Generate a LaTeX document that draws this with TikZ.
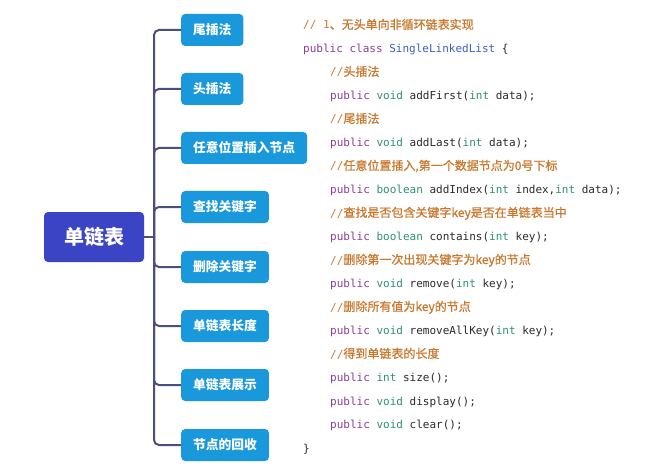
\documentclass[tikz,border=0pt]{standalone}
\usepackage{fontspec}
\setmonofont{DejaVu Sans Mono}
\newfontfamily\cjk{Noto Sans CJK SC}
\newfontfamily\cjkm[FakeBold=1]{Noto Sans CJK SC}
\definecolor{rootc}{HTML}{3B44C4}
\definecolor{boxc}{HTML}{1A98DC}
\definecolor{linec}{HTML}{4A4F80}
\definecolor{kwc}{HTML}{8A3D9A}
\definecolor{tyc}{HTML}{2E8F72}
\definecolor{clc}{HTML}{3B5FC0}
\definecolor{idc}{HTML}{2A2A2A}
\definecolor{cmc}{HTML}{C8792E}
\newcommand\kw[1]{\textcolor{kwc}{#1}}
\newcommand\ty[1]{\textcolor{tyc}{#1}}
\newcommand\cm[1]{\textcolor{cmc}{//{\fontsize{12}{14}\selectfont\cjkm #1}}}
\begin{document}
\begin{tikzpicture}[x=1pt,y=-1pt,
 rootbox/.style={fill=rootc, rounded corners=4pt, text=white, minimum width=100pt, minimum height=50pt, font=\fontsize{20}{24}\selectfont\cjk\bfseries, inner sep=0pt},
 leaf/.style={fill=boxc, rounded corners=4pt, text=white, minimum height=32pt, inner xsep=12pt, inner ysep=0pt, anchor=west, font=\fontsize{12.75}{15}\selectfont\cjk\bfseries},
 conn/.style={draw=linec, line width=2pt, rounded corners=5pt},
 code/.style={anchor=base west, inner sep=0pt, font=\fontsize{11}{13}\selectfont\ttfamily, text=idc}]
\useasboundingbox (0,0) rectangle (650,473);
\node[rootbox] (root) at (94,237) {单链表};
\node[leaf] (c1) at (181,30) {尾插法};
\node[leaf] (c2) at (181,89) {头插法};
\node[leaf] (c3) at (181,148) {任意位置插入节点};
\node[leaf] (c4) at (181,207) {查找关键字};
\node[leaf] (c5) at (181,267) {删除关键字};
\node[leaf] (c6) at (181,326) {单链表长度};
\node[leaf] (c7) at (181,385) {单链表展示};
\node[leaf] (c8) at (181,445) {节点的回收};
\coordinate (hub) at (154,237);
\draw[conn] (root.east) -- (hub);
\foreach \i in {1,...,8} \draw[conn] (hub) |- (c\i.west);
\node[code] (l1) at (303,29) {\textcolor{cmc}{// 1{\fontsize{12}{14}\selectfont\cjkm 、无头单向非循环链表实现}}};
\node[code] (l2) at (303,52.5) {\kw{public} \kw{class} \textcolor{clc}{SingleLinkedList} \{};
\node[code] (l3) at (330,76) {\cm{头插法}};
\node[code] (l4) at (330,99.5) {\kw{public} \ty{void} addFirst(\ty{int} data);};
\node[code] (l5) at (330,123) {\cm{尾插法}};
\node[code] (l6) at (330,146.5) {\kw{public} \ty{void} addLast(\ty{int} data);};
\node[code] (l7) at (330,170) {\cm{任意位置插入,第一个数据节点为0号下标}};
\node[code] (l8) at (330,193.5) {\kw{public} \ty{boolean} addIndex(\ty{int} index,\ty{int} data);};
\node[code] (l9) at (330,217) {\cm{查找是否包含关键字key是否在单链表当中}};
\node[code] (l10) at (330,240.5) {\kw{public} \ty{boolean} contains(\ty{int} key);};
\node[code] (l11) at (330,264) {\cm{删除第一次出现关键字为key的节点}};
\node[code] (l12) at (330,287.5) {\kw{public} \ty{void} remove(\ty{int} key);};
\node[code] (l13) at (330,311) {\cm{删除所有值为key的节点}};
\node[code] (l14) at (330,334.5) {\kw{public} \ty{void} removeAllKey(\ty{int} key);};
\node[code] (l15) at (330,358) {\cm{得到单链表的长度}};
\node[code] (l16) at (330,381.5) {\kw{public} \ty{int} size();};
\node[code] (l17) at (330,405) {\kw{public} \ty{void} display();};
\node[code] (l18) at (330,428.5) {\kw{public} \ty{void} clear();};
\node[code] (l19) at (303,452) {\}};
\end{tikzpicture}
\end{document}
